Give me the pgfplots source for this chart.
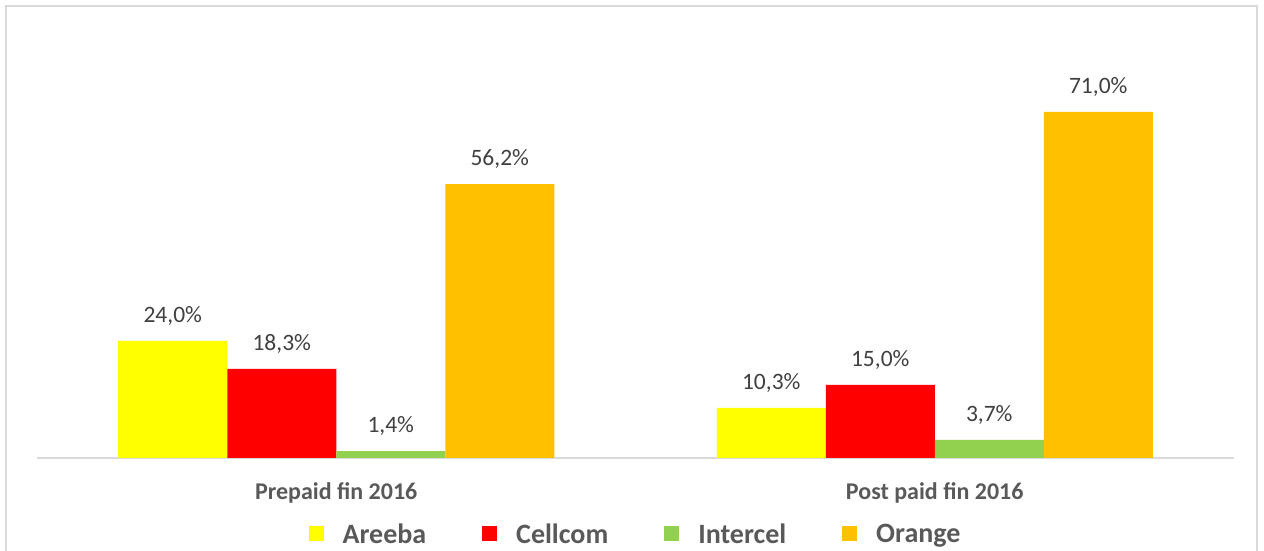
\documentclass[border=0pt]{standalone}
\usepackage{pgfplots}
\pgfplotsset{compat=1.18}
\usepackage{fontspec}
\setmainfont{Carlito}
\definecolor{areeba}{RGB}{255,255,0}
\definecolor{cellcom}{RGB}{255,0,0}
\definecolor{intercel}{RGB}{146,208,80}
\definecolor{orangebar}{RGB}{255,192,0}
\definecolor{txt}{RGB}{64,64,64}
\definecolor{lbl}{RGB}{89,89,89}
\definecolor{framegray}{RGB}{217,217,217}

\begin{document}
\begin{tikzpicture}[x=1pt,y=1pt]
\path[use as bounding box] (0,0) rectangle (1264,551);
\draw[framegray, line width=1.5pt] (6,-2) -- (6,545) -- (1257,545) -- (1257,-2);
\begin{axis}[
  at={(37pt,93pt)}, anchor=south west,
  scale only axis, width=1197pt, height=390pt,
  ybar=0pt, bar width=109pt,
  xmin=-0.5, xmax=1.5, ymin=0, ymax=80,
  axis x line=bottom, axis y line=none,
  x axis line style={framegray, line width=1.5pt, -},
  xtick={0,1}, xticklabels={Prepaid fin 2016, Post paid fin 2016},
  major tick length=0pt,
  xticklabel style={font=\fontsize{24}{28}\selectfont\bfseries, text=lbl, anchor=base, yshift=-42pt},
  clip=false,
  /pgf/number format/assume math mode=true,
  nodes near coords={\pgfmathprintnumber[fixed, fixed zerofill, precision=1, use comma]{\pgfplotspointmeta}\%},
  every node near coord/.append style={font=\fontsize{23.5}{28}\selectfont, text=txt, anchor=base, yshift=18.5pt},
  legend columns=4,
  legend style={at={(0.5,-0.195)}, anchor=center, draw=none, fill=none,
    font=\fontsize{28}{33}\selectfont\bfseries, text=lbl,
    /tikz/every odd column/.append style={column sep=17pt},
    /tikz/every even column/.append style={column sep=54pt}},
  legend image code/.code={\fill[#1, draw=none] (0pt,-7pt) rectangle (15pt,8pt);},
]
\addplot[fill=areeba, draw=none] coordinates {(0,24.0) (1,10.3)};
\addplot[fill=cellcom, draw=none] coordinates {(0,18.3) (1,15.0)};
\addplot[fill=intercel, draw=none] coordinates {(0,1.4) (1,3.7)};
\addplot[fill=orangebar, draw=none] coordinates {(0,56.2) (1,71.0)};
\legend{Areeba, Cellcom, Intercel, Orange}
\end{axis}
\end{tikzpicture}
\end{document}
